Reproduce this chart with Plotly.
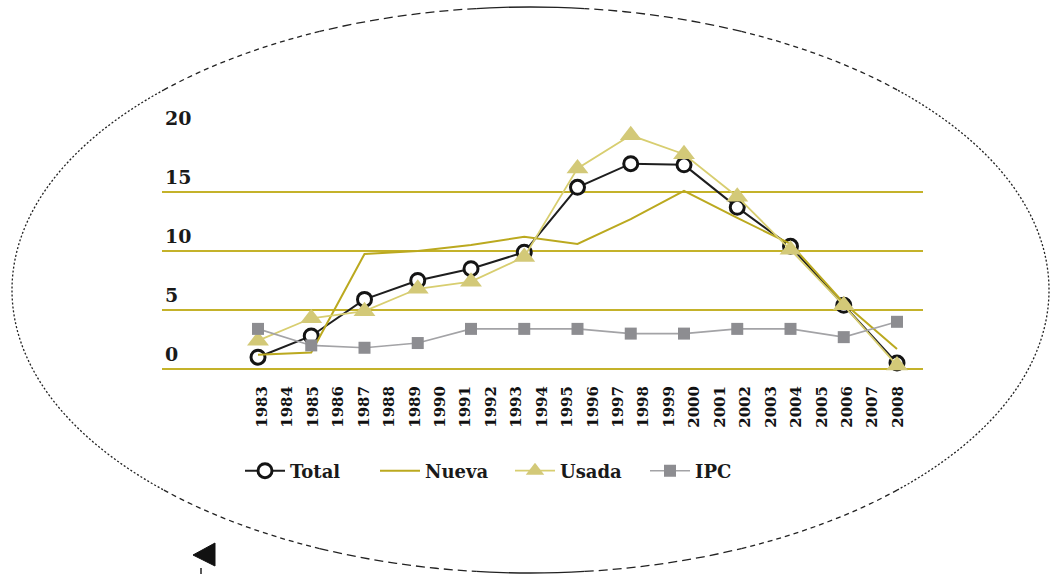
import math
import plotly.graph_objects as go

# Etiquetas del eje horizontal (una por año)
anios = [str(a) for a in range(1983, 2009)]

# Serie de puntos (13 observaciones a lo largo del periodo)
puntos = list(range(13))
total = [1.0, 2.8, 5.9, 7.5, 8.5, 9.9, 15.4, 17.4, 17.3, 13.7, 10.4, 5.4, 0.5]
nueva = [1.2, 1.4, 9.75, 10.0, 10.5, 11.2, 10.6, 12.7, 15.1, 12.8, 10.6, 5.6, 1.7]
usada = [2.4, 4.3, 4.9, 6.8, 7.4, 9.5, 17.0, 19.8, 18.2, 14.6, 10.1, 5.4, 0.3]
ipc = [3.4, 2.0, 1.8, 2.2, 3.4, 3.4, 3.4, 3.0, 3.0, 3.4, 3.4, 2.7, 4.0]

y_ticks = [0, 5, 10, 15, 20]
lineas_guia = [0, 5, 10, 15]

W, H = 1052, 574
# área de trazado en píxeles
PL, PR, PT, PB = 162, 923, 100, 380

def px(xp):
    return (xp - PL) / (PR - PL)

def py(yp):
    return (PB - yp) / (PB - PT)

FONT = "DejaVu Serif"
ORO = "#c4b22a"
KAKI = "#d3c978"
GRIS = "#8d8d91"

fig = go.Figure()

# traza auxiliar que fija el eje de etiquetas anuales
fig.add_trace(go.Scatter(
    x=list(range(len(anios))), y=[None] * len(anios), mode="lines",
    showlegend=False, hoverinfo="skip", line=dict(width=0),
))

fig.add_trace(go.Scatter(
    x=puntos, y=total, xaxis="x2", name="Total", mode="lines+markers",
    line=dict(color="#1e1e1e", width=2),
    marker=dict(symbol="circle", size=14, color="white",
                line=dict(color="#141414", width=3)),
))
fig.add_trace(go.Scatter(
    x=puntos, y=nueva, xaxis="x2", name="Nueva", mode="lines",
    line=dict(color="#bba91f", width=2),
))
fig.add_trace(go.Scatter(
    x=puntos, y=usada, xaxis="x2", name="Usada", mode="lines+markers",
    line=dict(color="#d8ce70", width=1.8),
    marker=dict(symbol="triangle-up", size=19, color=KAKI),
))
fig.add_trace(go.Scatter(
    x=puntos, y=ipc, xaxis="x2", name="IPC", mode="lines+markers",
    line=dict(color="#a3a3a6", width=1.6),
    marker=dict(symbol="square", size=12, color=GRIS),
))

shapes = []
for v in lineas_guia:
    shapes.append(dict(type="line", xref="paper", yref="y", x0=0, x1=1, y0=v, y1=v,
                       line=dict(color=ORO, width=2), layer="below"))

# marco elíptico: trazo largo arriba/abajo, punteado hacia los lados
CX, CY, RX, RY = 530.5, 290, 518.5, 283

def arco(t1, t2, pasos=4):
    """Arco de elipse (ángulos en grados, y hacia arriba) como curvas Bézier."""
    d = (t2 - t1) / pasos
    ruta = ""
    for i in range(pasos):
        a = math.radians(t1 + i * d)
        b = math.radians(t1 + (i + 1) * d)
        k = 4 / 3 * math.tan((b - a) / 4)
        p0 = (CX + RX * math.cos(a), CY - RY * math.sin(a))
        p3 = (CX + RX * math.cos(b), CY - RY * math.sin(b))
        p1 = (p0[0] - k * RX * math.sin(a), p0[1] - k * RY * math.cos(a))
        p2 = (p3[0] + k * RX * math.sin(b), p3[1] + k * RY * math.cos(b))
        if i == 0:
            ruta += f"M {px(p0[0])} {py(p0[1])} "
        ruta += (f"C {px(p1[0])} {py(p1[1])} {px(p2[0])} {py(p2[1])} "
                 f"{px(p3[0])} {py(p3[1])} ")
    return ruta

tramos = [
    (84, 96, "solid"), (264, 276, "solid"),
    (66, 84, "9px,5px"), (96, 114, "9px,5px"),
    (246, 264, "9px,5px"), (276, 294, "9px,5px"),
    (45, 66, "5px,4px"), (114, 135, "5px,4px"),
    (225, 246, "5px,4px"), (294, 315, "5px,4px"),
    (-45, 45, "2px,2px"), (135, 225, "2px,2px"),
]
for t1, t2, estilo in tramos:
    shapes.append(dict(type="path", xref="paper", yref="paper", path=arco(t1, t2),
                       line=dict(color="#222222", width=1.3, dash=estilo)))

# pequeña flecha en la esquina inferior
shapes.append(dict(type="path", xref="paper", yref="paper",
                   path=f"M {px(193)} {py(555)} L {px(215)} {py(543)} L {px(215)} {py(566)} Z",
                   fillcolor="#111111", line=dict(color="#111111", width=1)))
shapes.append(dict(type="line", xref="paper", yref="paper",
                   x0=px(201), x1=px(201), y0=py(568), y1=py(574),
                   line=dict(color="#222222", width=1.5)))

n_cat = len(anios)
cat_w = (898 - 262) / (n_cat - 1)
pt_w = (897 - 258) / (len(puntos) - 1)

fig.update_layout(
    width=W, height=H,
    margin=dict(l=PL, r=W - PR, t=PT, b=H - PB, pad=0),
    paper_bgcolor="white", plot_bgcolor="white",
    showlegend=True,
    legend=dict(orientation="h", x=px(240), y=py(471), xanchor="left", yanchor="middle",
                font=dict(family=FONT, size=18, color="#1a1a1a", weight="bold"),
                entrywidth=80, entrywidthmode="pixels", itemwidth=40,
                bgcolor="rgba(0,0,0,0)", traceorder="normal"),
    xaxis=dict(
        range=[(PL - 262) / cat_w, (n_cat - 1) + (PR - 898) / cat_w],
        tickmode="array", tickvals=list(range(n_cat)), ticktext=anios,
        tickangle=-90, showgrid=False, zeroline=False, showline=False, ticks="",
        tickfont=dict(family=FONT, size=15, color="#111111", weight="bold"),
        ticklabelstandoff=2,
    ),
    xaxis2=dict(
        overlaying="x", range=[(PL - 258) / pt_w, (len(puntos) - 1) + (PR - 897) / pt_w],
        visible=False,
    ),
    yaxis=dict(
        range=[(369 - PB) / 11.8, (369 - PT) / 11.8],
        tickmode="array", tickvals=y_ticks, ticktext=[str(v) for v in y_ticks],
        showgrid=False, zeroline=False, showline=False, ticks="",
        ticklabelposition="inside", ticklabelshift=-15, ticklabelstandoff=0,
        tickfont=dict(family=FONT, size=19, color="#1a1a1a", weight="bold"),
    ),
    shapes=shapes,
)

fig.write_html("out.html")
